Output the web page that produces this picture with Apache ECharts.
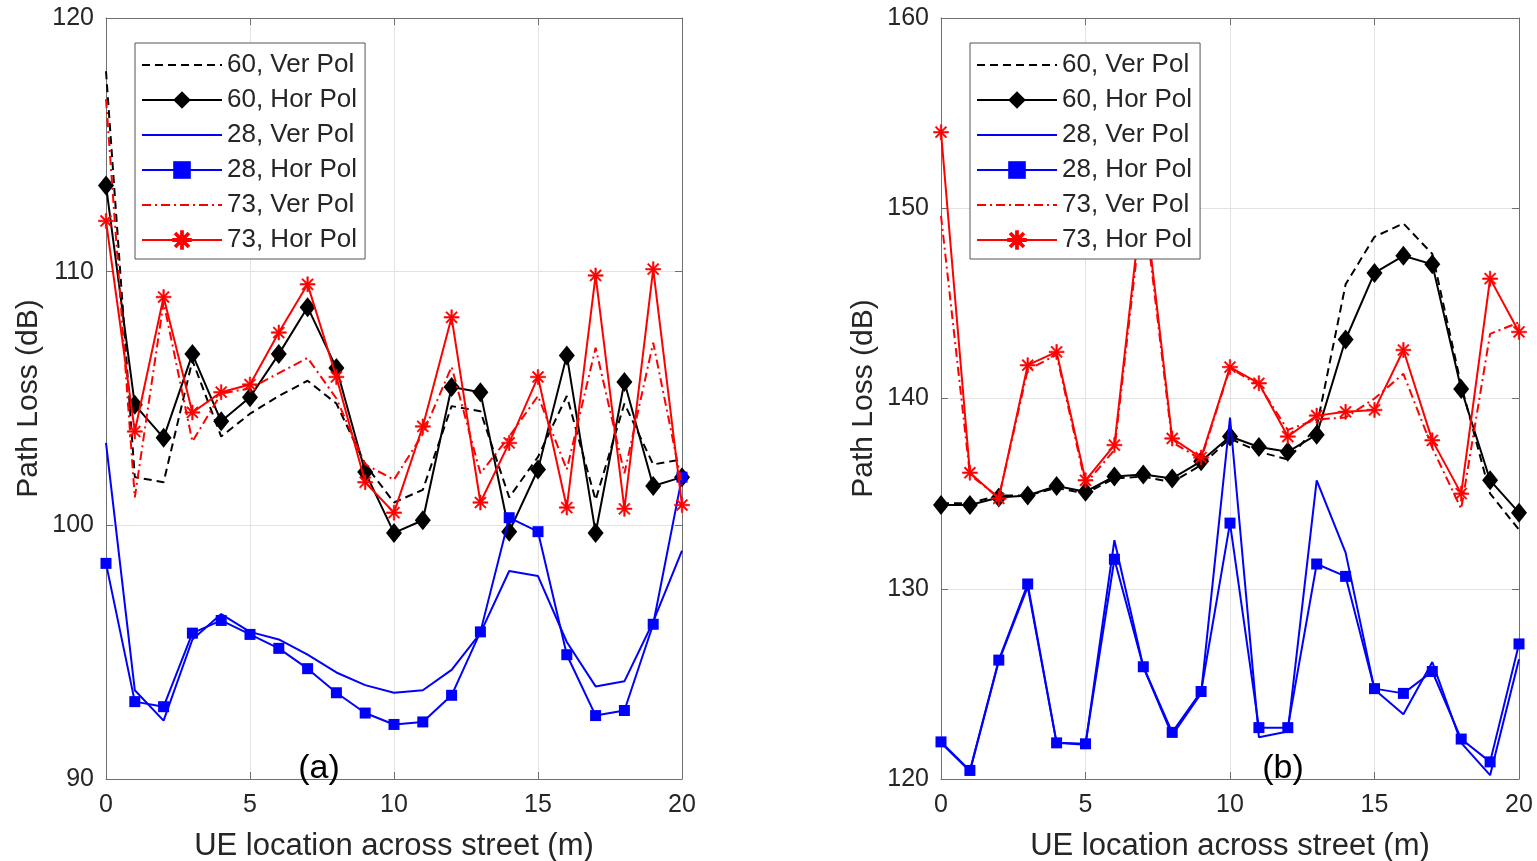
<!DOCTYPE html>
<html>
<head>
<meta charset="utf-8">
<script src="https://cdn.jsdelivr.net/npm/echarts@6/dist/echarts.min.js"></script>
<style>
html,body{margin:0;padding:0;background:#fff;}
#chart{width:1537px;height:861px;}
</style>
</head>
<body>
<div id="chart"></div>
<script>
// ---- Data ----
const xs = [0,1,2,3,4,5,6,7,8,9,10,11,12,13,14,15,16,17,18,19,20];
const seriesNames = ['60, Ver Pol','60, Hor Pol','28, Ver Pol','28, Hor Pol','73, Ver Pol','73, Hor Pol'];

// (a) left panel
const aVer60 = [117.9,101.9,101.7,106.5,103.5,104.4,105.1,105.7,104.8,102.4,100.9,101.4,104.7,104.5,101.1,102.7,105.1,101.0,104.8,102.4,102.6];
const aHor60 = [113.4,104.75,103.45,106.75,104.1,105.05,106.75,108.6,106.2,102.1,99.7,100.2,105.45,105.25,99.75,102.2,106.7,99.7,105.65,101.55,101.9];
const aVer28 = [103.25,93.5,92.3,95.5,96.5,95.8,95.5,94.9,94.2,93.7,93.4,93.5,94.3,95.75,98.2,98.0,95.4,93.65,93.85,96.2,99.0];
const aHor28 = [98.5,93.05,92.85,95.75,96.25,95.7,95.15,94.35,93.4,92.6,92.15,92.25,93.3,95.8,100.3,99.75,94.9,92.5,92.7,96.1,101.9];
const aVer73 = [116.8,101.1,108.8,103.3,105.2,105.4,106.0,106.6,105.0,102.4,101.8,103.6,106.25,102.05,103.5,105.1,102.2,107.0,102.05,107.2,101.6];
const aHor73 = [112.0,103.7,109.0,104.45,105.25,105.55,107.6,109.5,105.85,101.7,100.5,103.9,108.2,100.9,103.25,105.85,100.7,109.85,100.65,110.1,100.8];

// (b) right panel
const bVer60 = [134.5,134.5,134.9,134.9,135.3,135.0,135.8,135.9,135.6,136.5,137.9,137.2,136.8,138.5,146.0,148.5,149.2,147.6,140.7,135.0,133.1];
const bHor60 = [134.4,134.4,134.8,134.9,135.4,135.1,135.9,136.0,135.8,136.7,138.0,137.45,137.2,138.1,143.1,146.6,147.5,147.05,140.5,135.7,134.0];
const bVer28 = [121.9,120.4,126.2,130.1,121.9,121.8,132.55,125.9,122.3,124.5,139.0,122.2,122.5,135.7,131.9,124.7,123.4,126.15,121.9,120.2,126.3];
const bHor28 = [121.95,120.45,126.25,130.25,121.9,121.85,131.55,125.9,122.45,124.6,133.45,122.7,122.7,131.3,130.65,124.75,124.5,125.65,122.1,120.9,127.1];
const bVer73 = [149.6,136.0,134.8,141.5,142.3,135.5,137.3,150.5,137.7,136.8,141.6,140.7,138.35,138.9,139.0,140.0,141.3,137.4,134.2,143.4,144.0];
const bHor73 = [154.0,136.1,134.75,141.75,142.45,135.7,137.55,151.0,137.9,136.9,141.65,140.8,138.0,139.1,139.3,139.4,142.55,137.8,135.0,146.3,143.5];

const xTicks = {min:0, max:20, interval:5};
const aY = {min:90, max:120, interval:10};
const bY = {min:120, max:160, interval:10};
const xName = 'UE location across street (m)';
const yName = 'Path Loss (dB)';
const panelLabels = ['(a)', '(b)'];

// ---- Styles ----
const FONT = 'Liberation Sans, Arial, Helvetica, sans-serif';
const TXT = '#262626';
const AXC = '#707070';
const GRIDC = '#e3e3e3';
const ASTER = 'path://M9 0L11 0L11 20L9 20Z M0 9L20 9L20 11L0 11Z M3.6 2.2L17.8 16.4L16.4 17.8L2.2 3.6Z M16.4 2.2L17.8 3.6L3.6 17.8L2.2 16.4Z';

const styles = [
  {color:'#000000', type:[8,5], symbol:'none', size:0},
  {color:'#000000', type:'solid', symbol:'diamond', size:[16,20]},
  {color:'#0000ff', type:'solid', symbol:'none', size:0},
  {color:'#0000ff', type:'solid', symbol:'rect', size:11},
  {color:'#ff0000', type:[9,4,2,4], symbol:'none', size:0},
  {color:'#ff0000', type:'solid', symbol:ASTER, size:15}
];

function pairs(arr){ return xs.map((x,i)=>[x, arr[i]]); }

function makeSeries(arrs, gi){
  return arrs.map((arr, k)=>{
    const s = styles[k];
    return {
      name: seriesNames[k], type:'line',
      xAxisIndex: gi*2, yAxisIndex: gi*2,
      data: pairs(arr),
      symbol: s.symbol, symbolSize: s.size, showSymbol: s.symbol !== 'none',
      lineStyle:{color:s.color, width:2, type:s.type},
      itemStyle:{color:s.color, borderColor:s.color, borderWidth: k===5?0.6:0},
      animation:false, z: 2 + k*0.1, clip:false, emphasis:{disabled:true}
    };
  });
}

const grids = [
  {left:106, top:18, width:576, height:761, containLabel:false, outerBoundsMode:'none'},
  {left:941, top:18, width:578, height:761, containLabel:false, outerBoundsMode:'none'}
];

const xAxes = [], yAxes = [];
[aY, bY].forEach((yr, gi)=>{
  xAxes.push({
    type:'value', gridIndex:gi, min:xTicks.min, max:xTicks.max, interval:xTicks.interval,
    position:'bottom',
    name: xName, nameLocation:'middle', nameGap:52,
    nameTextStyle:{fontFamily:FONT, fontSize:31, color:TXT},
    axisLine:{show:true, onZero:false, lineStyle:{color:AXC, width:1}},
    axisTick:{show:true, inside:true, length:7, lineStyle:{color:AXC}},
    axisLabel:{fontFamily:FONT, fontSize:25, color:TXT, margin:14},
    splitLine:{show:true, lineStyle:{color:GRIDC, width:1}}
  });
  xAxes.push({
    type:'value', gridIndex:gi, min:xTicks.min, max:xTicks.max, interval:xTicks.interval,
    position:'top',
    axisLine:{show:true, onZero:false, lineStyle:{color:AXC, width:1}},
    axisTick:{show:true, inside:true, length:7, lineStyle:{color:AXC}},
    axisLabel:{show:false}, splitLine:{show:false}
  });
  yAxes.push({
    type:'value', gridIndex:gi, min:yr.min, max:yr.max, interval:yr.interval,
    position:'left',
    name: yName, nameLocation:'middle', nameGap:62, nameRotate:90,
    nameTextStyle:{fontFamily:FONT, fontSize:30, color:TXT},
    axisLine:{show:true, onZero:false, lineStyle:{color:AXC, width:1}},
    axisTick:{show:true, inside:true, length:7, lineStyle:{color:AXC}},
    axisLabel:{fontFamily:FONT, fontSize:25, color:TXT, margin:12},
    splitLine:{show:true, lineStyle:{color:GRIDC, width:1}}
  });
  yAxes.push({
    type:'value', gridIndex:gi, min:yr.min, max:yr.max, interval:yr.interval,
    position:'right',
    axisLine:{show:true, onZero:false, lineStyle:{color:AXC, width:1}},
    axisTick:{show:true, inside:true, length:7, lineStyle:{color:AXC}},
    axisLabel:{show:false}, splitLine:{show:false}
  });
});

function legendAt(left){
  return {
    orient:'vertical', left:left, top:43,
    data: seriesNames.map((n,k)=> styles[k].symbol === 'none'
      ? {name:n, itemStyle:{opacity:0}}
      : {name:n}),
    itemWidth:80, itemHeight:22, itemGap:9,
    padding:[9,8,6,6],
    backgroundColor:'#ffffff', borderColor:'#555555', borderWidth:1, borderRadius:0,
    textStyle:{fontFamily:FONT, fontSize:26, color:TXT, lineHeight:26},
    selectedMode:false, z:10
  };
}

const option = {
  backgroundColor:'#ffffff',
  animation:false,
  grid: grids,
  xAxis: xAxes,
  yAxis: yAxes,
  legend: [legendAt(135), legendAt(970)],
  series: [].concat(
    makeSeries([aVer60,aHor60,aVer28,aHor28,aVer73,aHor73], 0),
    makeSeries([bVer60,bHor60,bVer28,bHor28,bVer73,bHor73], 1)
  ),
  graphic: [
    {type:'text', x:319, y:769, z:20, style:{text:panelLabels[0], font:'34px '+FONT, fill:'#000', align:'center', verticalAlign:'middle'}},
    {type:'text', x:1283, y:769, z:20, style:{text:panelLabels[1], font:'34px '+FONT, fill:'#000', align:'center', verticalAlign:'middle'}}
  ]
};

const chart = echarts.init(document.getElementById('chart'), null, {renderer:'canvas'});
chart.setOption(option);
</script>
</body>
</html>
